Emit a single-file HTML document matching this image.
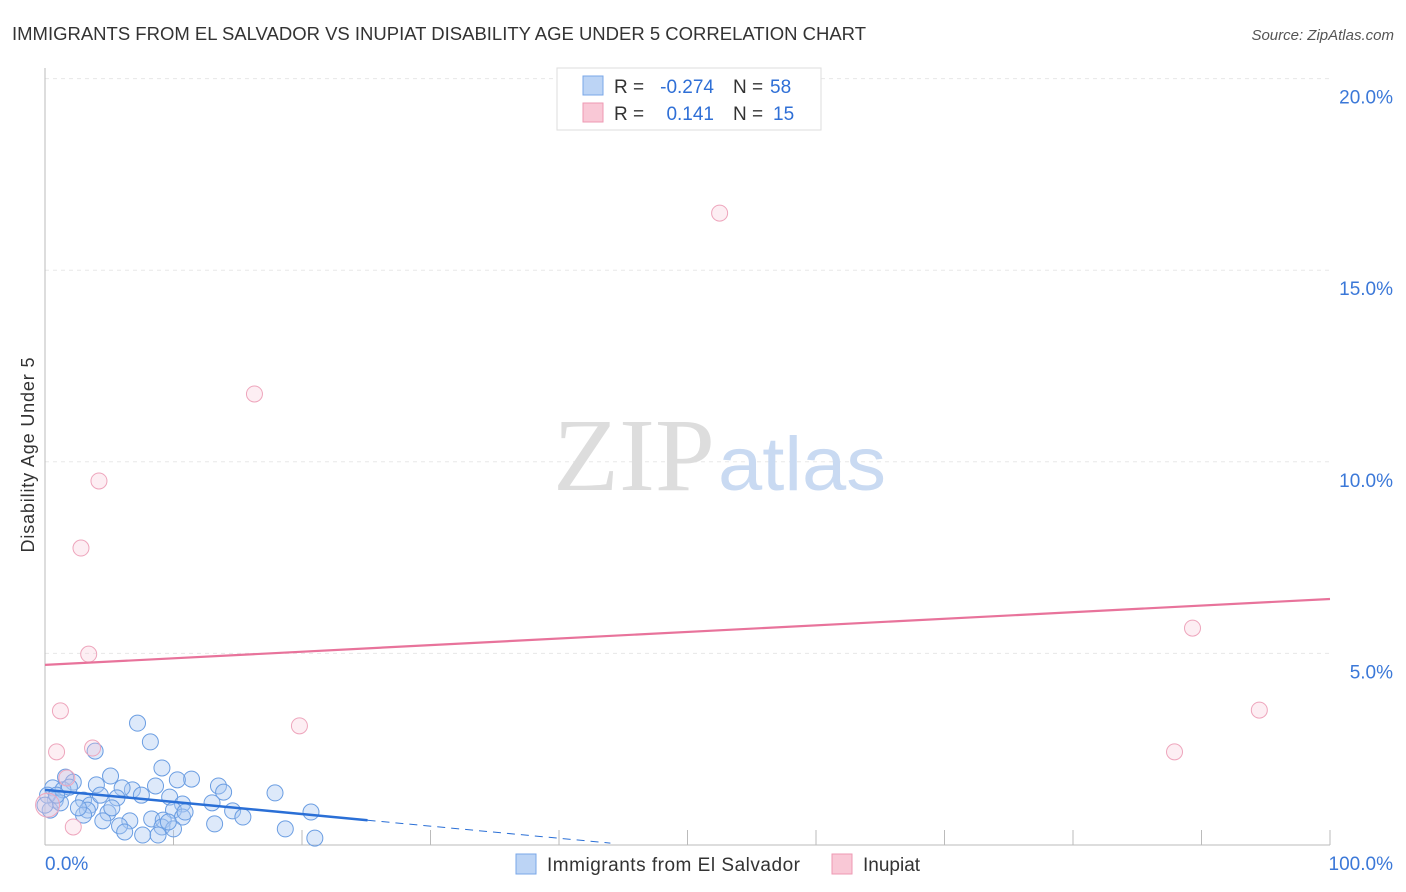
<!DOCTYPE html>
<html><head><meta charset="utf-8"><style>
body{margin:0;background:#fff;font-family:"Liberation Sans",sans-serif}
svg{display:block}
</style></head><body>
<svg width="1406" height="892" id="chart">
<text x="12" y="40" font-size="18" fill="#333" textLength="854" lengthAdjust="spacingAndGlyphs">IMMIGRANTS FROM EL SALVADOR VS INUPIAT DISABILITY AGE UNDER 5 CORRELATION CHART</text>
<text x="1394" y="40" font-size="15" fill="#555" font-style="italic" text-anchor="end">Source: ZipAtlas.com</text>
<text transform="translate(34,455) rotate(-90)" font-size="18" fill="#333" text-anchor="middle" textLength="195">Disability Age Under 5</text>
<g id="grid"></g>
<text x="553" y="490" font-size="104" fill="#ddd" font-family="Liberation Serif,serif" textLength="162" lengthAdjust="spacingAndGlyphs">ZIP</text>
<text x="718" y="490" font-size="76" fill="#c9daf2" textLength="168" lengthAdjust="spacingAndGlyphs">atlas</text>
<g id="marks"></g>
<g>
<rect x="557" y="68" width="264" height="62" fill="#fff" stroke="#ddd"/>
<rect x="583" y="76" width="20" height="19" fill="#bcd4f5" stroke="#7aa7e8"/>
<rect x="583" y="103" width="20" height="19" fill="#f9c8d6" stroke="#ee99b3"/>
<text x="614" y="93" font-size="19" fill="#333">R =</text>
<text x="714" y="93" font-size="19" fill="#2f6fd6" text-anchor="end">-0.274</text>
<text x="733" y="93" font-size="19" fill="#333">N =</text>
<text x="770" y="93" font-size="19" fill="#2f6fd6">58</text>
<text x="614" y="120" font-size="19" fill="#333">R =</text>
<text x="714" y="120" font-size="19" fill="#2f6fd6" text-anchor="end">0.141</text>
<text x="733" y="120" font-size="19" fill="#333">N =</text>
<text x="773" y="120" font-size="19" fill="#2f6fd6">15</text>
</g>
<g>
<rect x="516" y="854" width="20" height="20" fill="#bcd4f5" stroke="#7aa7e8"/>
<text x="547" y="871" font-size="19" fill="#333" textLength="253">Immigrants from El Salvador</text>
<rect x="832" y="854" width="20" height="20" fill="#f9c8d6" stroke="#ee99b3"/>
<text x="863" y="871" font-size="19" fill="#333">Inupiat</text>
</g>
<text x="45" y="870" font-size="19" fill="#3b78d8">0.0%</text>
<text x="1393" y="870" font-size="19" fill="#3b78d8" text-anchor="end">100.0%</text>
</svg>
<script>
const yTicks=[5,10,15,20];
const yTickLabels=["5.0%","10.0%","15.0%","20.0%"];
const blueX=[7.2,8.2,3.9,9.1,5.1,11.4,10.3,13.5,8.6,4.0,1.6,2.2,13.9,6.8,7.5,6.0,9.7,17.9,5.6,3.0,3.5,10.7,13.0,0.6,0.8,0.4,3.3,14.6,20.7,4.9,10.0,3.0,15.4,10.7,8.3,9.2,4.5,6.6,13.2,5.8,9.1,18.7,10.0,6.2,7.6,8.8,21.0,1.4,1.9,1.2,0.2,0.0,0.9,4.3,10.9,9.6,5.2,2.6];
const blueY=[3.18,2.69,2.45,2.01,1.80,1.72,1.70,1.54,1.54,1.57,1.77,1.64,1.38,1.44,1.30,1.49,1.25,1.36,1.23,1.17,1.04,1.07,1.10,1.49,1.17,0.91,0.91,0.89,0.86,0.84,0.91,0.78,0.73,0.73,0.68,0.65,0.63,0.63,0.55,0.50,0.47,0.42,0.42,0.34,0.26,0.26,0.18,1.44,1.51,1.10,1.30,1.04,1.30,1.30,0.86,0.60,0.97,0.97];
const pinkX=[52.5,16.3,4.2,2.8,3.4,1.2,0.9,3.7,19.8,2.2,89.3,94.5,87.9,0.2,1.7];
const pinkY=[16.49,11.77,9.50,7.75,4.98,3.50,2.43,2.53,3.11,0.47,5.66,3.52,2.43,1.04,1.75];
const pinkTrend=[4.70,6.42];
const blueTrend=[1.44,0.05];
const blueSolidEnd=25.1, blueDashEnd=44;
const NS="http://www.w3.org/2000/svg";
const xs=v=>45+v*12.85, ys=v=>845-v*38.32;
const grid=document.getElementById('grid'), marks=document.getElementById('marks');
function mk(p,tag,a){const e=document.createElementNS(NS,tag);for(const k in a)e.setAttribute(k,a[k]);p.appendChild(e);return e;}
yTicks.forEach((t,i)=>{
 const l=mk(grid,'line',{x1:45,x2:1330,y1:ys(t),y2:ys(t),stroke:'#e8e8e8','stroke-dasharray':'4,4'});
 
 
 const tx=mk(grid,'text',{x:1393,y:ys(t)+25,'font-size':19,fill:'#3b78d8','text-anchor':'end'});
 tx.textContent=yTickLabels[i];
 
 
});
const ax=mk(grid,'line',{x1:45,x2:45,y1:68,y2:845,stroke:'#bbb'});


const bx=mk(grid,'line',{x1:45,x2:1330,y1:845,y2:845,stroke:'#bbb'});


for(let i=0;i<=10;i++){const t=mk(grid,'line',{x1:xs(i*10),x2:xs(i*10),y1:830,y2:845,stroke:'#bbb'});
 
 }
blueX.forEach((x,i)=>{const c=mk(marks,'circle',{cx:xs(x),cy:ys(blueY[i]),r:8,fill:'rgba(170,200,242,0.4)',stroke:'#6a9de2','stroke-width':1});
 
 });
pinkX.forEach((x,i)=>{const c=mk(marks,'circle',{cx:xs(x),cy:ys(pinkY[i]),r:i==13?12:8,fill:'rgba(248,200,215,0.3)',stroke:'#eea5bc','stroke-width':1});
 
 });
const pl=mk(marks,'line',{x1:xs(0),y1:ys(pinkTrend[0]),x2:xs(100),y2:ys(pinkTrend[1]),stroke:'#e8739b','stroke-width':2.2});


const slope=(blueTrend[1]-blueTrend[0])/blueDashEnd;
const bl=mk(marks,'line',{x1:xs(0),y1:ys(blueTrend[0]),x2:xs(blueSolidEnd),y2:ys(blueTrend[0]+slope*blueSolidEnd),stroke:'#2a6fd6','stroke-width':2.5});


const bd=mk(marks,'line',{x1:xs(blueSolidEnd),y1:ys(blueTrend[0]+slope*blueSolidEnd),x2:xs(blueDashEnd),y2:ys(blueTrend[1]),stroke:'#2a6fd6','stroke-width':1,'stroke-dasharray':'8,6'});


</script>
</body></html>
